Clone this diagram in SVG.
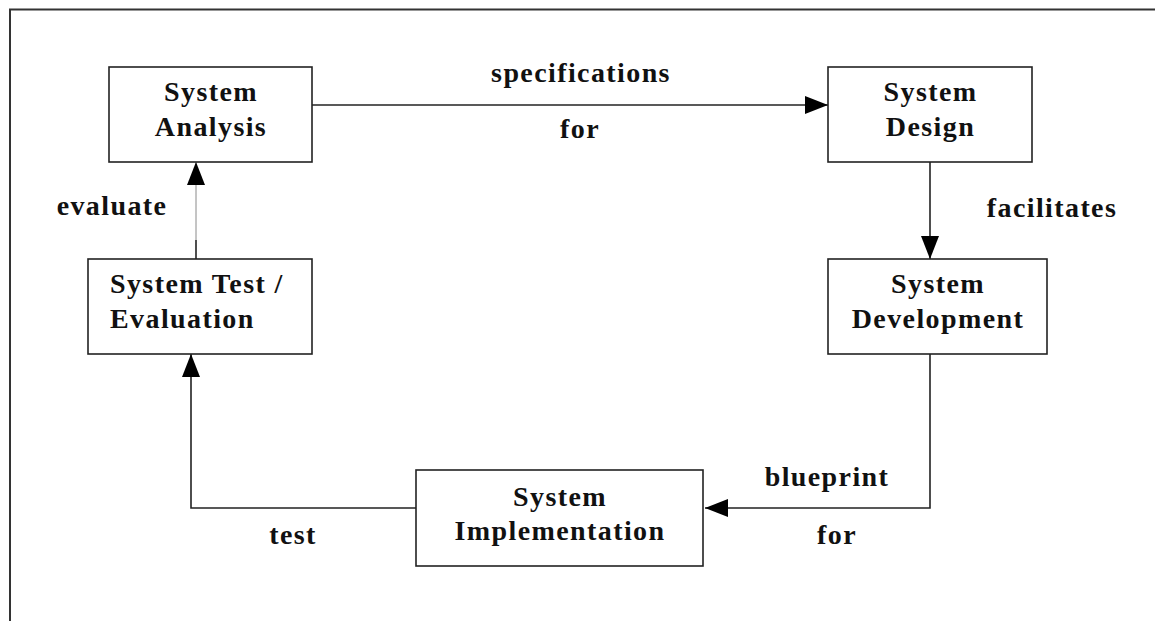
<svg xmlns="http://www.w3.org/2000/svg" width="1155" height="621" viewBox="0 0 1155 621">
  <style>
    .box { fill: #ffffff; stroke: #222222; stroke-width: 1.6; }
    .t { font-family: "Liberation Serif", "Times New Roman", serif; font-weight: bold; font-size: 28px; letter-spacing: 1.4px; fill: #111111; }
    .c { text-anchor: middle; }
    .conn { fill: none; stroke: #222222; stroke-width: 1.6; }
    .thin { fill: none; stroke: #8a8a8a; stroke-width: 1; }
  </style>
  <defs>
    <marker id="arr" viewBox="0 0 23 18" refX="23" refY="9" markerWidth="23" markerHeight="18" orient="auto" markerUnits="userSpaceOnUse">
      <path d="M0,0 L23,9 L0,18 z" fill="#000000"/>
    </marker>
  </defs>
  <rect x="0" y="0" width="1155" height="621" fill="#ffffff"/>
  <path d="M10,621 V9.5 H1155" fill="none" stroke="#333333" stroke-width="2"/>

  <g id="connectors">
    <path class="conn" d="M312,105 H828" marker-end="url(#arr)"/>
    <path class="conn" d="M930,162 V259" marker-end="url(#arr)"/>
    <path class="conn" d="M930,354 V508 H705" marker-end="url(#arr)"/>
    <path class="conn" d="M416,508 H191 V354" marker-end="url(#arr)"/>
    <path class="thin" d="M196,240 V162" marker-end="url(#arr)"/>
    <path class="conn" d="M196,240 V259"/>
    <text class="t c" x="581" y="82">specifications</text>
    <text class="t c" x="580" y="138">for</text>
    <text class="t c" x="1052" y="217">facilitates</text>
    <text class="t c" x="112" y="215">evaluate</text>
    <text class="t c" x="827" y="486">blueprint</text>
    <text class="t c" x="837" y="544">for</text>
    <text class="t c" x="293" y="544">test</text>
  </g>

  <g id="analysis">
    <rect class="box" x="109" y="67" width="203" height="95"/>
    <text class="t c" x="211" y="101">System</text>
    <text class="t c" x="211" y="136">Analysis</text>
  </g>
  <g id="design">
    <rect class="box" x="828" y="67" width="204" height="95"/>
    <text class="t c" x="930.5" y="101">System</text>
    <text class="t c" x="930.5" y="136">Design</text>
  </g>
  <g id="development">
    <rect class="box" x="828" y="259" width="219" height="95"/>
    <text class="t c" x="938" y="293">System</text>
    <text class="t c" x="938" y="328">Development</text>
  </g>
  <g id="test">
    <rect class="box" x="88" y="259" width="224" height="95"/>
    <text class="t" x="110" y="293">System Test /</text>
    <text class="t" x="110" y="328">Evaluation</text>
  </g>
  <g id="implementation">
    <rect class="box" x="416" y="470" width="287" height="96"/>
    <text class="t c" x="560" y="506">System</text>
    <text class="t c" x="560" y="540">Implementation</text>
  </g>
</svg>
